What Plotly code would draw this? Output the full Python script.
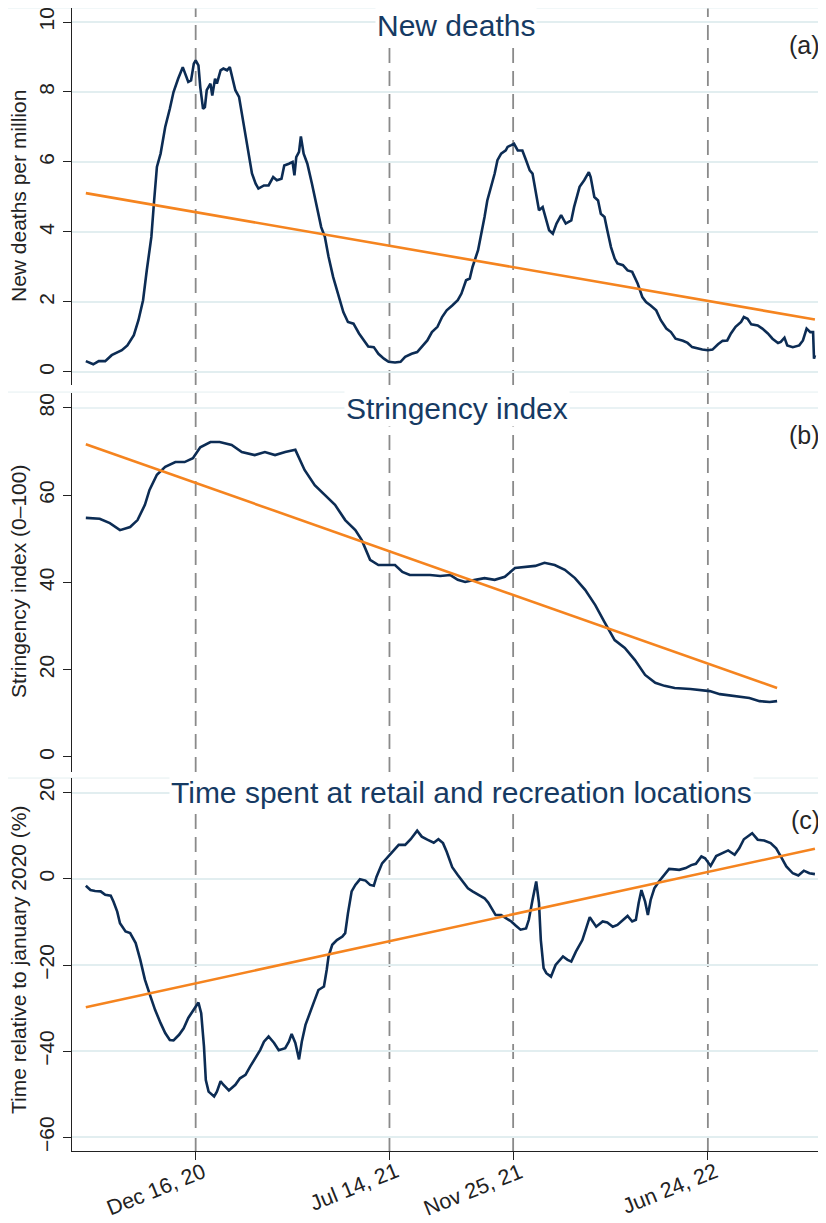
import pandas as pd
import plotly.graph_objects as go

# Dates are stored as days relative to 16 Dec 2020
base_date = pd.Timestamp("2020-12-16")

event_dates = ["2020-12-16", "2021-07-14", "2021-11-25", "2022-06-24"]
event_labels = ["Dec 16, 20", "Jul 14, 21", "Nov 25, 21", "Jun 24, 22"]

# (a) new deaths per million
deaths_day = [-119, -111, -105, -98, -91, -80, -74, -67, -62, -57, -53, -48, -45, -42, -38, -33,
              -28, -24, -19, -14, -8, -5, -2, 0, 3, 5, 8, 10, 12, 16, 18, 21, 23, 27, 30, 34, 37,
              39, 43, 47, 50, 54, 57, 61, 65, 68, 74, 79, 84, 88, 93, 96, 101, 105, 107, 109, 112,
              114, 117, 121, 126, 131, 136, 140, 144, 149, 155, 160, 165, 171, 177, 182, 187, 193,
              198, 204, 209, 216, 222, 227, 234, 240, 245, 251, 256, 262, 267, 272, 278, 284, 288,
              293, 297, 300, 306, 309, 313, 316, 320, 324, 327, 331, 336, 338, 342, 345, 349, 354,
              358, 362, 365, 369, 372, 376, 380, 383, 387, 391, 396, 401, 407, 410, 416, 421, 426,
              428, 432, 436, 439, 443, 446, 450, 454, 457, 463, 468, 473, 479, 484, 488, 493, 499,
              504, 510, 515, 520, 528, 533, 538, 544, 549, 555, 560, 566, 571, 576, 580, 585, 591,
              594, 598, 602, 609, 614, 620, 625, 631, 634, 638, 641, 647, 654, 658, 662, 666, 669,
              670, 671]
deaths = [0.31, 0.22, 0.31, 0.31, 0.48, 0.62, 0.76, 1.05, 1.48, 2.05, 2.90, 3.86, 4.90, 5.86, 6.24,
          7.00, 7.52, 8.00, 8.38, 8.71, 8.29, 8.33, 8.81, 8.90, 8.76, 8.14, 7.52, 7.57, 8.05, 8.24,
          7.90, 8.38, 8.24, 8.62, 8.67, 8.62, 8.71, 8.48, 8.05, 7.86, 7.38, 6.81, 6.24, 5.67, 5.38,
          5.24, 5.33, 5.33, 5.57, 5.48, 5.52, 5.90, 5.95, 6.00, 5.62, 6.14, 6.29, 6.73, 6.24, 5.95,
          5.38, 4.71, 4.14, 3.86, 3.29, 2.71, 2.14, 1.71, 1.43, 1.38, 1.10, 0.90, 0.73, 0.71, 0.52,
          0.38, 0.29, 0.27, 0.29, 0.43, 0.52, 0.57, 0.71, 0.90, 1.14, 1.29, 1.57, 1.76, 1.90, 2.05,
          2.24, 2.62, 2.67, 3.00, 3.48, 3.86, 4.43, 4.90, 5.29, 5.67, 6.05, 6.24, 6.33, 6.43, 6.48,
          6.52, 6.33, 6.33, 6.05, 5.76, 5.67, 5.00, 4.62, 4.71, 4.33, 4.05, 3.95, 4.24, 4.48, 4.24,
          4.33, 4.71, 5.29, 5.48, 5.71, 5.57, 5.00, 4.90, 4.52, 4.43, 4.05, 3.57, 3.24, 3.10, 3.05,
          2.90, 2.86, 2.52, 2.14, 2.00, 1.90, 1.76, 1.48, 1.24, 1.14, 0.95, 0.89, 0.83, 0.71, 0.67,
          0.64, 0.62, 0.64, 0.79, 0.89, 0.90, 1.10, 1.29, 1.43, 1.57, 1.52, 1.36, 1.33, 1.24, 1.10,
          0.95, 0.83, 0.86, 0.98, 0.76, 0.71, 0.76, 0.90, 1.24, 1.14, 1.14, 0.38, 0.48]
deaths_trend_day = [-119, 671]
deaths_trend = [5.11, 1.50]

# (b) stringency index
stringency_day = [-119, -104, -93, -82, -71, -63, -55, -50, -42, -33, -22, -12, -3, 5, 16, 26, 39,
                  50, 64, 75, 86, 97, 108, 118, 129, 140, 151, 162, 173, 180, 189, 198, 205, 216,
                  224, 232, 243, 254, 265, 276, 284, 292, 303, 313, 324, 335, 346, 357, 368, 378,
                  389, 400, 411, 422, 433, 443, 454, 465, 476, 487, 498, 508, 519, 536, 546, 557,
                  568, 584, 600, 611, 622, 630]
stringency = [54.8, 54.6, 53.6, 52.0, 52.7, 54.3, 57.8, 61.2, 64.7, 66.5, 67.6, 67.6, 68.5, 71.0,
              72.2, 72.2, 71.5, 69.9, 69.2, 69.9, 69.2, 69.9, 70.4, 65.8, 62.3, 60.1, 57.8, 54.3,
              52.0, 49.7, 45.2, 44.0, 44.0, 44.0, 42.4, 41.7, 41.7, 41.7, 41.5, 41.7, 40.6, 40.1,
              40.6, 41.0, 40.6, 41.3, 43.3, 43.6, 43.8, 44.5, 44.0, 42.9, 41.0, 38.3, 34.8, 30.9,
              26.8, 25.0, 22.2, 18.8, 17.0, 16.3, 15.8, 15.6, 15.4, 15.1, 14.4, 14.0, 13.5, 12.8,
              12.6, 12.8]
stringency_trend_day = [-119, 630]
stringency_trend = [71.7, 15.8]

# (c) time at retail and recreation, % relative to january 2020
mobility_day = [-119, -114, -109, -103, -98, -92, -89, -85, -82, -76, -71, -65, -60, -55, -49, -44,
                -38, -33, -28, -24, -18, -13, -8, -2, 3, 6, 9, 11, 14, 20, 23, 27, 30, 36, 43, 48,
                54, 59, 65, 70, 74, 79, 85, 90, 97, 101, 104, 108, 112, 115, 119, 124, 129, 133,
                139, 142, 144, 148, 153, 159, 162, 165, 169, 173, 178, 184, 189, 193, 196, 202,
                209, 215, 220, 227, 233, 240, 245, 251, 258, 263, 268, 272, 278, 284, 289, 295,
                300, 307, 313, 317, 322, 325, 331, 336, 342, 347, 352, 358, 361, 365, 369, 372,
                374, 377, 380, 385, 390, 398, 403, 407, 412, 419, 423, 427, 434, 441, 446, 452,
                457, 463, 468, 473, 477, 480, 483, 487, 490, 493, 497, 502, 508, 513, 519, 524,
                531, 537, 542, 548, 552, 558, 564, 569, 577, 584, 589, 594, 603, 609, 616, 623,
                629, 634, 640, 647, 653, 659, 665, 671]
mobility = [-1.6, -2.6, -2.8, -2.9, -3.7, -3.9, -5.3, -7.6, -10.3, -12.2, -12.6, -14.9, -18.8,
            -23.4, -27.3, -30.4, -33.5, -35.8, -37.4, -37.5, -36.2, -34.7, -32.3, -30.4, -28.7,
            -31.2, -38.9, -46.7, -49.4, -50.5, -49.4, -47.0, -47.8, -49.1, -47.8, -46.3, -45.5,
            -43.6, -41.6, -39.7, -37.8, -36.6, -38.1, -39.8, -39.3, -37.8, -36.0, -38.1, -41.9,
            -37.8, -33.9, -31.2, -28.1, -25.8, -25.0, -21.1, -18.0, -15.3, -14.2, -13.4, -12.6,
            -8.0, -2.9, -1.4, -0.1, -0.4, -1.4, -1.6, 0.5, 3.6, 5.2, 6.7, 7.9, 7.9, 9.2, 11.2,
            9.8, 9.1, 8.4, 9.2, 8.3, 6.3, 2.7, 0.9, -0.6, -2.2, -2.9, -3.7, -4.5, -5.5, -7.2,
            -8.4, -8.4, -9.1, -9.9, -10.9, -11.8, -11.5, -9.5, -4.9, -0.6, -5.6, -14.2, -20.7,
            -21.9, -22.7, -20.0, -18.0, -18.8, -19.2, -16.9, -14.2, -11.8, -8.9, -11.1, -9.9,
            -10.1, -11.1, -10.7, -9.5, -8.6, -9.9, -9.5, -5.6, -2.6, -5.3, -8.4, -4.9, -2.2,
            -0.6, 0.9, 2.3, 2.2, 2.1, 2.5, 3.2, 3.5, 5.2, 4.8, 3.0, 5.3, 5.8, 6.6, 5.6, 7.1,
            9.2, 10.6, 9.1, 8.9, 8.3, 7.1, 5.2, 2.9, 1.3, 0.8, 1.9, 1.3, 1.1]
mobility_trend_day = [-119, 671]
mobility_trend = [-29.8, 7.0]

NAVY = "#0c2c54"
ORANGE = "#f5841f"
TITLE_COLOR = "#163a63"
GRID = "#e2eef0"
FONT = "Liberation Sans, Arial, sans-serif"


def to_dates(days):
    return [base_date + pd.Timedelta(days=d) for d in days]


fig = go.Figure()

panels = [
    (deaths_day, deaths, deaths_trend_day, deaths_trend, "x", "y"),
    (stringency_day, stringency, stringency_trend_day, stringency_trend, "x2", "y2"),
    (mobility_day, mobility, mobility_trend_day, mobility_trend, "x3", "y3"),
]
for days, vals, tdays, tvals, xa, ya in panels:
    fig.add_trace(go.Scatter(x=to_dates(days), y=vals, mode="lines", xaxis=xa, yaxis=ya,
                             line=dict(color=NAVY, width=2.6), showlegend=False))
    fig.add_trace(go.Scatter(x=to_dates(tdays), y=tvals, mode="lines", xaxis=xa, yaxis=ya,
                             line=dict(color=ORANGE, width=2.6), showlegend=False))

    # dashed event lines
    for d in event_dates:
        fig.add_shape(type="line", xref=xa, yref=f"{ya} domain", x0=d, x1=d, y0=0, y1=1,
                      line=dict(color="#8a8a8a", width=1.8, dash="15px,8px"), layer="below")

# gridline at 80 in panel (b)
fig.add_shape(type="line", xref="x2 domain", yref="y2", x0=0, x1=1, y0=80, y1=80,
              line=dict(color=GRID, width=1.6), layer="below")

# faint frames around each sub-graph
frame = dict(color="#e4eff1", width=1)
for yp in [1.0, 0.6640, 0.3263]:
    fig.add_shape(type="line", xref="paper", yref="paper", x0=-0.0862, x1=1, y0=yp, y1=yp,
                  line=frame, layer="below")
fig.add_shape(type="line", xref="paper", yref="paper", x0=-0.0862, x1=-0.0862, y0=-0.07, y1=1,
              line=frame, layer="below")

x_range = ["2020-08-04", "2022-10-30"]
hidden_x = dict(range=x_range, type="date", showgrid=False, zeroline=False, showline=False,
                showticklabels=False, ticks="", automargin=False)
ycommon = dict(showline=True, linecolor="#222222", linewidth=1.3, ticks="outside", ticklen=8,
               tickcolor="#222222", tickangle=-90, tickfont=dict(size=21, color="#222222"),
               gridcolor=GRID, gridwidth=1.6, zeroline=False, automargin=False,
               ticklabeloverflow="allow")

# the page body adds an 8px offset, so the figure is sized 8px smaller
fig.update_layout(
    template="none",
    width=818, height=1215,
    margin=dict(l=64, r=0, t=0, b=72, autoexpand=False),
    paper_bgcolor="white", plot_bgcolor="white",
    font=dict(family=FONT, color="#222222"),
    showlegend=False,
    xaxis=dict(hidden_x, anchor="y", domain=[0, 1]),
    xaxis2=dict(hidden_x, anchor="y2", domain=[0, 1]),
    xaxis3=dict(range=x_range, type="date", anchor="y3", domain=[0, 1], showgrid=False,
                zeroline=False, showline=True, linecolor="#222222", linewidth=1.3,
                ticks="outside", ticklen=8, tickcolor="#222222", automargin=False,
                tickvals=event_dates, showticklabels=False),
    yaxis=dict(ycommon, anchor="x", domain=[0.6702, 1.0], range=[-0.371, 10.4],
               tickvals=[0, 2, 4, 6, 8, 10]),
    yaxis2=dict(ycommon, anchor="x2", domain=[0.3316, 0.6632], range=[-3.44, 83.44],
                tickvals=[0, 20, 40, 60, 80], showgrid=False),
    yaxis3=dict(ycommon, anchor="x3", domain=[0, 0.3263], range=[-63.18, 23.41],
                tickvals=[-60, -40, -20, 0, 20]),
)

# rotated date labels, placed as in the original (ending just right of each tick)
for d, label in zip(event_dates, event_labels):
    fig.add_annotation(text=label, xref="x3", yref="paper", x=d, y=-0.0058, xanchor="right",
                       yanchor="top", xshift=14, textangle=-22, showarrow=False, borderpad=0,
                       font=dict(size=21.5, color="#222222"))

titles = [("New deaths", 0.5093, 0.9847),
          ("Stringency index", 0.5106, 0.6500),
          ("Time spent at retail and recreation locations", 0.5172, 0.3138)]
for text, x, y in titles:
    fig.add_annotation(text=text, xref="paper", yref="paper", x=x, y=y, xanchor="center",
                       yanchor="middle", showarrow=False, bgcolor="white", borderpad=1,
                       font=dict(size=30, color=TITLE_COLOR))

for text, y in [("(a)", 0.9676), ("(b)", 0.6264), ("(c)", 0.2896)]:
    fig.add_annotation(text=text, xref="paper", yref="paper", x=0.9947, y=y, xanchor="right",
                       yanchor="middle", showarrow=False, font=dict(size=25, color="#262626"))

for text, y in [("New deaths per million", 0.8355),
                ("Stringency index (0\u2013100)", 0.4978),
                ("Time relative to january 2020 (%)", 0.1671)]:
    fig.add_annotation(text=text, xref="paper", yref="paper", x=-0.0716, y=y, xanchor="center",
                       yanchor="middle", textangle=-90, showarrow=False,
                       font=dict(size=21, color="#222222"))

fig.write_html("out.html")
